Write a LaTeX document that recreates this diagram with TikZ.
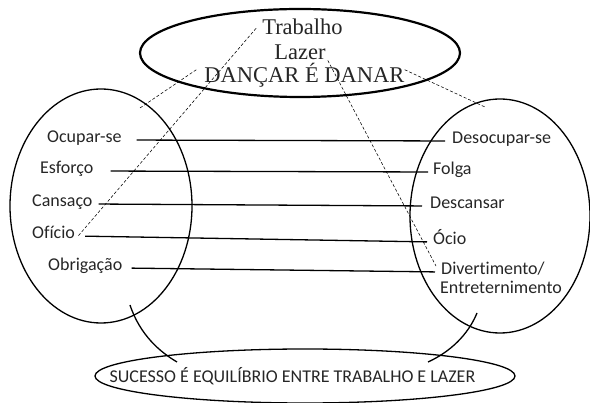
\documentclass[tikz,border=0pt]{standalone}
\usepackage{fontspec}
\setmainfont{Liberation Serif}
\newfontfamily\calib[Ligatures={NoCommon}]{Carlito}
\usetikzlibrary{shapes.geometric}
\begin{document}
\begin{tikzpicture}[x=1pt,y=-1pt,
  lbl/.style={font=\calib\fontsize{18}{20}\selectfont, inner sep=0pt, text height=1.4ex, text depth=0.25ex, anchor=west, text=black!85},
  ttl/.style={font=\fontsize{22.5}{24}\selectfont, inner sep=0pt, anchor=base, text=black!85},
  oval/.style={draw, ellipse, inner sep=0pt, line width=1.3pt},
  link/.style={line width=1.3pt},
  dline/.style={line width=0.55pt, dash pattern=on 3pt off 2pt}]
\useasboundingbox (0,0) rectangle (590,403);
% ellipses
\node[oval, line width=2.2pt, minimum width=320pt, minimum height=88pt] (topov) at (300,53) {};
\node[oval, minimum width=182pt, minimum height=234pt] (leftov) at (101,206) {};
\node[oval, minimum width=180pt, minimum height=234pt] (rightov) at (500,216) {};
\node[oval, minimum width=420pt, minimum height=54pt] (botov) at (305,376) {};
% top texts
\node[ttl] (trabalho) at (302.5,35) {Trabalho};
\node[ttl] (lazer) at (300,60) {Lazer};
\node[ttl] (danar) at (304.5,83) {DANÇAR É DANAR};
% left labels
\node[lbl] (ocupar) at (47,140) {Ocupar-se};
\node[lbl] (esforco) at (40,171) {Esforço};
\node[lbl] (cansaco) at (32,204) {Cansaço};
\node[lbl] (oficio) at (32,236) {Ofício};
\node[lbl] (obrig) at (48,268) {Obrigação};
% right labels
\node[lbl] (desoc) at (452,141) {Desocupar-se};
\node[lbl] (folga) at (433,172) {Folga};
\node[lbl] (descansar) at (430,206) {Descansar};
\node[lbl] (ocio) at (433,242) {Ócio};
\node[lbl] (divert) at (441,272) {Divertimento/};
\node[lbl] (entre) at (440,291) {Entreternimento};
% bottom text
\node[font=\calib\fontsize{18}{20}\selectfont, inner sep=0pt, anchor=base, text=black!85] (sucesso) at (292.5,383) {SUCESSO É EQUILÍBRIO ENTRE TRABALHO E LAZER};
% connecting lines
\draw[link, shorten <=15pt, shorten >=7pt] (ocupar.east) -- (desoc.west);
\draw[link, shorten <=17pt, shorten >=5pt] (esforco.east) -- (folga.west);
\draw[link, shorten <=6pt, shorten >=8pt] (cansaco.east) -- (descansar.west);
\draw[link, shorten <=10pt, shorten >=6pt] (oficio.east) -- (ocio.west);
\draw[link, shorten <=9pt, shorten >=6pt] (obrig.east) -- (divert.west);
% dashed lines
\coordinate (d1) at (140,108);
\coordinate (d4) at (485,107);
\draw[dline] ([xshift=-8pt,yshift=6pt]danar.west) -- (d1);
\draw[dline] ([xshift=-6pt,yshift=-1pt]trabalho.west) -- ([xshift=3pt]oficio.east);
\draw[dline] ([xshift=2pt]lazer.south east) -- ([xshift=-5pt,yshift=2pt]divert.north west);
\draw[dline] ([yshift=6pt]danar.east) -- (d4);
% curves
\coordinate (c1a) at (130,305);
\coordinate (c1b) at (177,362);
\coordinate (c2a) at (477,313);
\coordinate (c2b) at (428,362);
\draw[link] (c1a) .. controls (140,335) and (160,352) .. (c1b);
\draw[link] (c2a) .. controls (468,335) and (450,352) .. (c2b);
\end{tikzpicture}
\end{document}
